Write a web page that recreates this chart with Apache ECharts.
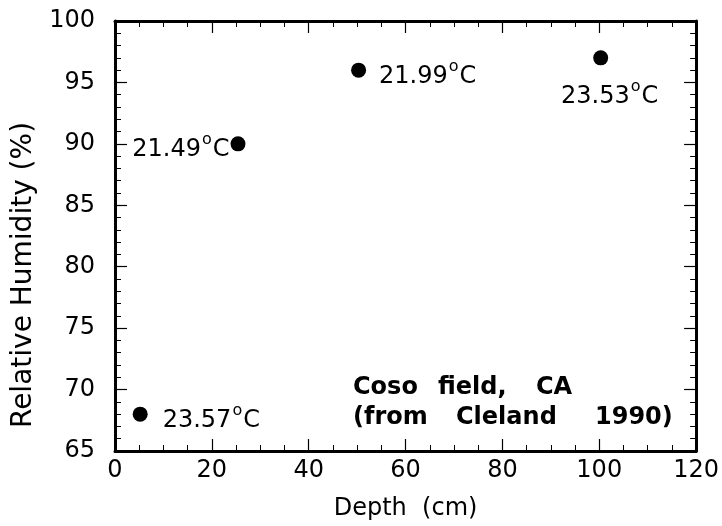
<!DOCTYPE html>
<html><head><meta charset="utf-8">
<script src="https://cdn.jsdelivr.net/npm/echarts@6/dist/echarts.min.js"></script>
<style>html,body{margin:0;padding:0;background:#fff}#c{width:722px;height:526px}</style>
</head><body><div id="c"></div>
<script>
// ---- data ----
const depthCm = [5.2, 25.4, 50.3, 100.3];
const humidityPct = [68, 90, 96, 97];
const tempC = ['23.57', '21.49', '21.99', '23.53'];
const xTickValues = [0, 20, 40, 60, 80, 100, 120];
const yTickValues = [65, 70, 75, 80, 85, 90, 95, 100];
const xName = 'Depth  (cm)';
const yName = 'Relative Humidity (%)';
const noteLine1 = ['Coso', 'field,', 'CA'];
const noteLine2 = ['(from', 'Cleland', '1990)'];

// ---- layout / style ----
const FONT = '"DejaVu Sans", sans-serif';
const labelSide = ['right', 'left', 'right', 'bottom'];
const labelGap = [15, 1, 13, 10];
const labelOffset = [[0, 7], [0, 6], [0, 7], [9, 3]];
const note1X = [353, 438, 536];
const note2X = [353, 456, 595];

const xMin = xTickValues[0], xMax = xTickValues[xTickValues.length - 1];
const xStep = xTickValues[1] - xTickValues[0];
const yMin = yTickValues[0], yMax = yTickValues[yTickValues.length - 1];
const yStep = yTickValues[1] - yTickValues[0];

function axisCommon() {
  return {
    axisLine: { show: true, onZero: false, lineStyle: { color: '#000', width: 3 } },
    axisTick: { show: true, inside: true, length: 12, lineStyle: { color: '#000', width: 1.2 } },
    minorTick: { show: true, length: 6, lineStyle: { color: '#000', width: 1 } },
    splitLine: { show: false }
  };
}

const xBase = Object.assign({ type: 'value', min: xMin, max: xMax, interval: xStep }, axisCommon());
xBase.minorTick.splitNumber = 4;
const yBase = Object.assign({ type: 'value', min: yMin, max: yMax, interval: yStep }, axisCommon());
yBase.minorTick.splitNumber = 5;

const data = depthCm.map((d, i) => ({
  value: [d, humidityPct[i]],
  label: {
    show: true,
    position: labelSide[i],
    distance: labelGap[i],
    offset: labelOffset[i],
    color: '#000',
    formatter: '{t|' + tempC[i] + '}{s|o}{t|C}',
    rich: {
      t: { fontFamily: FONT, fontSize: 24, color: '#000' },
      s: { fontFamily: FONT, fontSize: 16, color: '#000', padding: [0, 1, 20, 1] }
    }
  }
}));

const graphics = [];
noteLine1.forEach((w, i) => graphics.push({
  type: 'text', x: note1X[i], y: 388,
  style: { text: w, font: 'bold 24px ' + FONT, fill: '#000', verticalAlign: 'middle', align: 'left' }
}));
noteLine2.forEach((w, i) => graphics.push({
  type: 'text', x: note2X[i], y: 418,
  style: { text: w, font: 'bold 24px ' + FONT, fill: '#000', verticalAlign: 'middle', align: 'left' }
}));

const chart = echarts.init(document.getElementById('c'), null, { renderer: 'canvas' });
chart.setOption({
  animation: false,
  backgroundColor: '#fff',
  grid: { left: 115, right: 25, top: 21, bottom: 69, containLabel: false },
  xAxis: [
    Object.assign({}, xBase, {
      position: 'bottom',
      name: xName, nameLocation: 'middle', nameGap: 46,
      nameTextStyle: { fontFamily: FONT, fontSize: 24, color: '#000' },
      axisLabel: { show: true, margin: 8, fontFamily: FONT, fontSize: 24, color: '#000' }
    }),
    Object.assign({}, xBase, { position: 'top', axisLabel: { show: false } })
  ],
  yAxis: [
    Object.assign({}, yBase, {
      position: 'left',
      name: yName, nameLocation: 'middle', nameGap: 77, nameRotate: 90,
      nameTextStyle: { fontFamily: FONT, fontSize: 28, color: '#000', padding: [0, 78, 0, 0] },
      axisLabel: { show: true, margin: 20, fontFamily: FONT, fontSize: 24, color: '#000' }
    }),
    Object.assign({}, yBase, { position: 'right', axisLabel: { show: false } })
  ],
  series: [{
    type: 'scatter',
    xAxisIndex: 0, yAxisIndex: 0,
    symbol: 'circle', symbolSize: 15,
    itemStyle: { color: '#000', opacity: 1 },
    data: data
  }],
  graphic: graphics
});
</script></body></html>
